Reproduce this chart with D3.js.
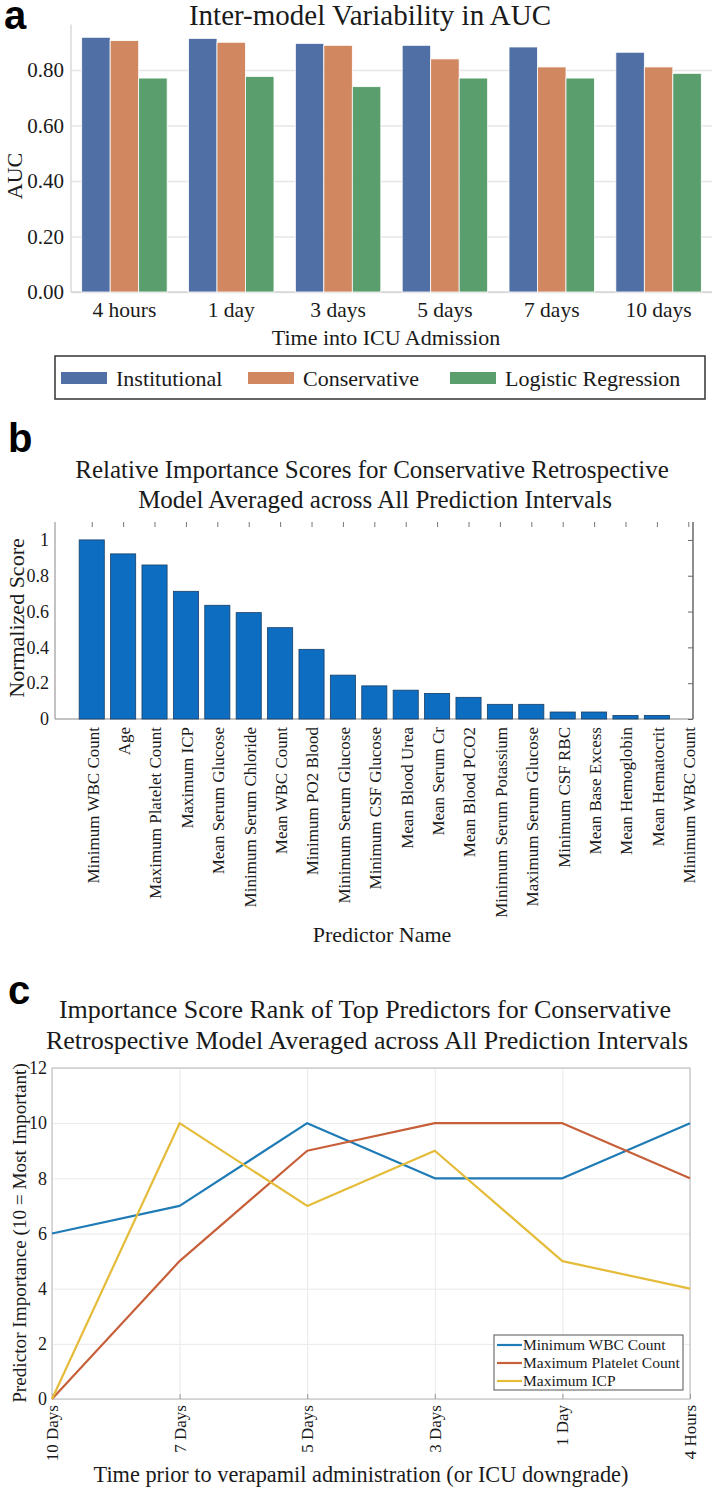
<!DOCTYPE html>
<html>
<head>
<meta charset="utf-8">
<script src="https://cdn.jsdelivr.net/npm/d3@7"></script>
<style>
  html, body { margin: 0; padding: 0; background: #fff; }
  svg { display: block; }
  .serif { font-family: "Liberation Serif", "Times New Roman", serif; fill: #1a1a1a; }
  .panel { font-family: "Liberation Sans", Arial, sans-serif; font-weight: bold; fill: #000; }
</style>
</head>
<body>
<svg id="chart" width="715" height="1495"></svg>
<script>
// ---------- Panel a data ----------
const aCategories = ["4 hours", "1 day", "3 days", "5 days", "7 days", "10 days"];
const aSeries = ["Institutional", "Conservative", "Logistic Regression"];
const aInstitutional = [0.918, 0.914, 0.896, 0.889, 0.883, 0.864];
const aConservative  = [0.906, 0.900, 0.889, 0.840, 0.811, 0.811];
const aLogistic      = [0.771, 0.777, 0.740, 0.771, 0.771, 0.788];
const aTicks = [0, 0.2, 0.4, 0.6, 0.8];
const aColors = ["#4F6FA5", "#D18760", "#5B9E6E"];

// ---------- Panel b data ----------
const bPredictors = ["Minimum WBC Count", "Age", "Maximum Platelet Count", "Maximum ICP",
  "Mean Serum Glucose", "Minimum Serum Chloride", "Mean WBC Count", "Minimum PO2 Blood",
  "Minimum Serum Glucose", "Minimum CSF Glucose", "Mean Blood Urea", "Mean Serum Cr",
  "Mean Blood PCO2", "Minimum Serum Potassium", "Maximum Serum Glucose", "Minimum CSF RBC",
  "Mean Base Excess", "Mean Hemoglobin", "Mean Hematocrit", "Minimum WBC Count"];
const bScores = [1.0, 0.922, 0.860, 0.713, 0.635, 0.594, 0.510, 0.389, 0.245, 0.185,
  0.161, 0.143, 0.121, 0.082, 0.082, 0.039, 0.039, 0.020, 0.020, 0.0];
const bTicks = [0, 0.2, 0.4, 0.6, 0.8, 1];

// ---------- Panel c data ----------
const cTimes = ["10 Days", "7 Days", "5 Days", "3 Days", "1 Day", "4 Hours"];
const cSeriesNames = ["Minimum WBC Count", "Maximum Platelet Count", "Maximum ICP"];
const cWBC      = [6, 7, 10, 8, 8, 10];
const cPlatelet = [0, 5, 9, 10, 10, 8];
const cICP      = [0, 10, 7, 9, 5, 4];
const cTicks = [0, 2, 4, 6, 8, 10, 12];
const cColors = ["#1F7BB6", "#C7603A", "#E5BC3A"];

const svg = d3.select("#chart");

// =================== PANEL A ===================
(function () {
  const g = svg.append("g");
  const L = 71, R = 712, T = 24.5, B = 292;
  const x = d3.scaleBand().domain(aCategories).range([L, R]).paddingInner(0.2).paddingOuter(0.1);
  const xs = d3.scaleBand().domain(aSeries).range([0, x.bandwidth()]);
  const y = d3.scaleLinear().domain([0, 0.964]).range([B, T]);
  const seriesVals = [aInstitutional, aConservative, aLogistic];

  g.append("text").attr("class", "panel").attr("x", 4).attr("y", 29).attr("font-size", 40).text("a");
  g.append("text").attr("class", "serif").attr("x", 370).attr("y", 25).attr("text-anchor", "middle")
    .attr("font-size", 29).text("Inter-model Variability in AUC");

  // grid
  const yAxis = d3.axisLeft(y).tickValues(aTicks).tickSize(-(R - L)).tickFormat(d3.format(".2f"));
  const ya = g.append("g").attr("transform", `translate(${L},0)`).call(yAxis);
  ya.select(".domain").remove();
  ya.selectAll(".tick line").attr("stroke", "#e6e6e6").attr("stroke-width", 1.3);
  ya.selectAll(".tick text").attr("class", "serif").attr("x", -7).attr("font-size", 21)
    .attr("font-family", "Liberation Serif, serif").attr("fill", "#1a1a1a");

  // spines
  g.append("line").attr("x1", L).attr("x2", L).attr("y1", T).attr("y2", B).attr("stroke", "#d4d4d4").attr("stroke-width", 1.3);
  g.append("line").attr("x1", L).attr("x2", R).attr("y1", B).attr("y2", B).attr("stroke", "#d4d4d4").attr("stroke-width", 1.3);

  // bars
  seriesVals.forEach((vals, si) => {
    g.append("g").selectAll("rect").data(vals).join("rect")
      .attr("x", (d, i) => x(aCategories[i]) + xs(aSeries[si]))
      .attr("width", xs.bandwidth())
      .attr("y", d => y(d))
      .attr("height", d => y(0) - y(d))
      .attr("fill", aColors[si])
      .attr("stroke", "#ffffff").attr("stroke-width", 0.8);
  });

  // x labels
  const xa = g.append("g").attr("transform", `translate(0,${B})`).call(d3.axisBottom(x).tickSize(0));
  xa.select(".domain").remove();
  xa.selectAll(".tick text").attr("y", 25).attr("dy", 0).attr("font-size", 21.5)
    .attr("font-family", "Liberation Serif, serif").attr("fill", "#1a1a1a");

  g.append("text").attr("class", "serif").attr("x", 386).attr("y", 345).attr("text-anchor", "middle")
    .attr("font-size", 22).text("Time into ICU Admission");
  g.append("text").attr("class", "serif").attr("transform", "translate(22,176) rotate(-90)")
    .attr("text-anchor", "middle").attr("font-size", 22).text("AUC");

  // legend
  g.append("rect").attr("x", 55).attr("y", 356).attr("width", 650).attr("height", 43)
    .attr("fill", "#fff").attr("stroke", "#333").attr("stroke-width", 1.5);
  const legX = [61, 248, 450];
  aSeries.forEach((s, i) => {
    g.append("rect").attr("x", legX[i]).attr("y", 372).attr("width", 46).attr("height", 12).attr("fill", aColors[i]);
    g.append("text").attr("class", "serif").attr("x", legX[i] + 55).attr("y", 386)
      .attr("font-size", 22).text(s);
  });
})();

// =================== PANEL B ===================
(function () {
  const g = svg.append("g");
  const L = 55, R = 693, T = 522, B = 719;
  const x = d3.scaleLinear().domain([-0.17, 20.15]).range([L, R]);
  const y = d3.scaleLinear().domain([0, 1.1]).range([B, T]);
  const bw = x(0.8) - x(0);

  g.append("text").attr("class", "panel").attr("x", 8).attr("y", 452).attr("font-size", 40).text("b");
  g.append("text").attr("class", "serif").attr("x", 372).attr("y", 478).attr("text-anchor", "middle")
    .attr("font-size", 25).text("Relative Importance Scores for Conservative Retrospective");
  g.append("text").attr("class", "serif").attr("x", 375).attr("y", 508).attr("text-anchor", "middle")
    .attr("font-size", 25).text("Model Averaged across All Prediction Intervals");

  // axes lines
  g.append("line").attr("x1", L).attr("x2", L).attr("y1", T).attr("y2", B).attr("stroke", "#9a9a9a").attr("stroke-width", 1.2);
  g.append("line").attr("x1", L).attr("x2", R).attr("y1", B).attr("y2", B).attr("stroke", "#8a8a8a").attr("stroke-width", 1.2);
  g.append("line").attr("x1", R).attr("x2", R).attr("y1", T).attr("y2", B).attr("stroke", "#444").attr("stroke-width", 1.2);

  // left tick labels
  const ya = g.append("g").attr("transform", `translate(${L},0)`)
    .call(d3.axisLeft(y).tickValues(bTicks).tickSize(0).tickFormat(d3.format("~g")));
  ya.select(".domain").remove();
  ya.selectAll(".tick text").attr("x", -6).attr("font-size", 18)
    .attr("font-family", "Liberation Serif, serif").attr("fill", "#1a1a1a");
  // right ticks
  const yr = g.append("g").attr("transform", `translate(${R},0)`)
    .call(d3.axisRight(y).tickValues(bTicks).tickSize(-5).tickFormat(""));
  yr.select(".domain").remove();
  yr.selectAll(".tick line").attr("stroke", "#666");

  // top ticks
  const idx = d3.range(1, bPredictors.length + 1);
  const xt = g.append("g").attr("transform", `translate(0,${T})`)
    .call(d3.axisTop(x).tickValues(idx).tickSize(-5).tickFormat(""));
  xt.select(".domain").remove();
  xt.selectAll(".tick line").attr("stroke", "#777");

  // bars
  g.append("g").selectAll("rect").data(bScores).join("rect")
    .attr("x", (d, i) => x(i + 1) - bw / 2)
    .attr("width", bw)
    .attr("y", d => y(d))
    .attr("height", d => y(0) - y(d))
    .attr("fill", "#0D6DC1")
    .attr("stroke", "#173f66").attr("stroke-width", 0.8);

  // rotated labels
  g.append("g").selectAll("text").data(bPredictors).join("text")
    .attr("class", "serif")
    .attr("transform", (d, i) => `translate(${x(i + 1) + 1},${B + 8}) rotate(-90)`)
    .attr("text-anchor", "end").attr("dy", "0.35em").attr("font-size", 17)
    .text(d => d);

  g.append("text").attr("class", "serif").attr("x", 382).attr("y", 942).attr("text-anchor", "middle")
    .attr("font-size", 22).text("Predictor Name");
  g.append("text").attr("class", "serif").attr("transform", "translate(24,618) rotate(-90)")
    .attr("text-anchor", "middle").attr("font-size", 22).text("Normalized Score");
})();

// =================== PANEL C ===================
(function () {
  const g = svg.append("g");
  const L = 52, R = 690, T = 1068, B = 1399;
  const x = d3.scalePoint().domain(cTimes).range([L, R]);
  const y = d3.scaleLinear().domain([0, 12]).range([B, T]);

  g.append("text").attr("class", "panel").attr("x", 8).attr("y", 1004).attr("font-size", 40).text("c");
  g.append("text").attr("class", "serif").attr("x", 365).attr("y", 1018).attr("text-anchor", "middle")
    .attr("font-size", 26).text("Importance Score Rank of Top Predictors for Conservative");
  g.append("text").attr("class", "serif").attr("x", 367).attr("y", 1049).attr("text-anchor", "middle")
    .attr("font-size", 26).text("Retrospective Model Averaged across All Prediction Intervals");

  // grid
  const yg = g.append("g").attr("transform", `translate(${L},0)`)
    .call(d3.axisLeft(y).tickValues(cTicks).tickSize(-(R - L)).tickFormat(""));
  yg.select(".domain").remove();
  yg.selectAll(".tick line").attr("stroke", "#e9e9e9");
  const xg = g.append("g").attr("transform", `translate(0,${B})`)
    .call(d3.axisBottom(x).tickSize(-(B - T)).tickFormat(""));
  xg.select(".domain").remove();
  xg.selectAll(".tick line").attr("stroke", "#e9e9e9");

  // box
  g.append("rect").attr("x", L).attr("y", T).attr("width", R - L).attr("height", B - T)
    .attr("fill", "none").attr("stroke", "#c4c4c4").attr("stroke-width", 1.2);

  // small inner ticks
  const xti = g.append("g").attr("transform", `translate(0,${B})`)
    .call(d3.axisBottom(x).tickSize(-5).tickFormat(""));
  xti.select(".domain").remove();
  xti.selectAll(".tick line").attr("stroke", "#999");

  // y labels
  const ya = g.append("g").attr("transform", `translate(${L},0)`)
    .call(d3.axisLeft(y).tickValues(cTicks).tickSize(0));
  ya.select(".domain").remove();
  ya.selectAll(".tick text").attr("x", -5).attr("font-size", 18)
    .attr("font-family", "Liberation Serif, serif").attr("fill", "#1a1a1a");

  // x labels (rotated)
  g.append("g").selectAll("text").data(cTimes).join("text")
    .attr("class", "serif")
    .attr("transform", d => `translate(${x(d)},${B + 6}) rotate(-90)`)
    .attr("text-anchor", "end").attr("dy", "0.35em").attr("font-size", 17)
    .text(d => d);

  // lines
  const line = d3.line().x((d, i) => x(cTimes[i])).y(d => y(d));
  [cWBC, cPlatelet, cICP].forEach((vals, si) => {
    g.append("path").datum(vals).attr("d", line).attr("fill", "none")
      .attr("stroke", cColors[si]).attr("stroke-width", 2.2).attr("stroke-linejoin", "round");
  });

  // legend
  const lx = 494, ly = 1335;
  g.append("rect").attr("x", lx).attr("y", ly).attr("width", 189).attr("height", 55)
    .attr("fill", "#fff").attr("stroke", "#555").attr("stroke-width", 1);
  cSeriesNames.forEach((s, i) => {
    const by = 1350 + i * 18;
    g.append("line").attr("x1", lx + 3).attr("x2", lx + 28).attr("y1", by - 5).attr("y2", by - 5)
      .attr("stroke", cColors[i]).attr("stroke-width", 2.2);
    g.append("text").attr("class", "serif").attr("x", lx + 29).attr("y", by).attr("font-size", 15.5).text(s);
  });

  g.append("text").attr("class", "serif").attr("x", 361).attr("y", 1482).attr("text-anchor", "middle")
    .attr("font-size", 22.3).text("Time prior to verapamil administration (or ICU downgrade)");
  g.append("text").attr("class", "serif").attr("transform", "translate(26,1233) rotate(-90)")
    .attr("text-anchor", "middle").attr("font-size", 19.2).text("Predictor Importance (10 = Most Important)");
})();
</script>
</body>
</html>
